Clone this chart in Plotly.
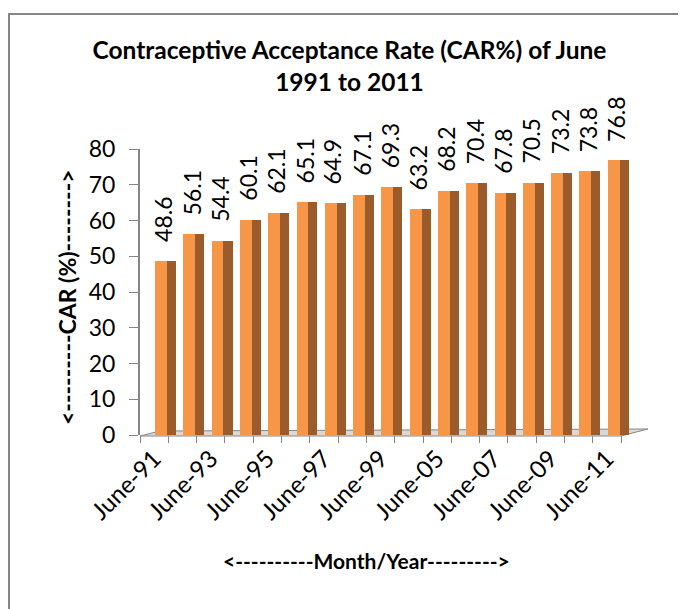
import plotly.graph_objects as go

categories = ["June-91", "June-92", "June-93", "June-94", "June-95", "June-96",
              "June-97", "June-98", "June-99", "June-04", "June-05", "June-06",
              "June-07", "June-08", "June-09", "June-10", "June-11"]
car_values = [48.6, 56.1, 54.4, 60.1, 62.1, 65.1, 64.9, 67.1, 69.3, 63.2,
              68.2, 70.4, 67.8, 70.5, 73.2, 73.8, 76.8]
tick_labels = [c if i % 2 == 0 else "" for i, c in enumerate(categories)]

FONT = "Lato"
FRONT = "#F79646"
SIDE = "#9C5B2A"
GRAY = "#868686"

fig = go.Figure()
# side face of the 3D bars
fig.add_trace(go.Bar(x=categories, y=car_values, offset=0.44, width=0.33,
                     marker=dict(color=SIDE, line=dict(width=0)),
                     hoverinfo="skip", showlegend=False))
# front face of the 3D bars
fig.add_trace(go.Bar(x=categories, y=car_values, offset=0.03, width=0.42,
                     marker=dict(color=FRONT, line=dict(width=0)),
                     showlegend=False))

annotations = []
for c, v in zip(categories, car_values):
    annotations.append(dict(x=c, y=v, xref="x", yref="y", text=f"{v:.1f}",
                            textangle=-90, showarrow=False, xanchor="center",
                            yanchor="bottom", xshift=9, yshift=18, borderpad=0,
                            font=dict(family=FONT, size=23, color="black")))

annotations.append(dict(x=-0.1487, y=0.4825, xref="paper", yref="paper",
                        text="<b><---------CAR (%)--------></b>", textangle=-90,
                        showarrow=False, xanchor="center", yanchor="middle",
                        font=dict(family=FONT, size=23, color="black")))
annotations.append(dict(x=0.4603, y=-0.44, xref="paper", yref="paper",
                        text="<b><----------Month/Year---------></b>",
                        showarrow=False, xanchor="center", yanchor="middle",
                        font=dict(family=FONT, size=21, color="black")))

shapes = [
    # outer chart border
    dict(type="rect", xref="paper", yref="paper", x0=-0.2668, x1=1.2, y0=-0.7, y1=1.472,
         line=dict(color=GRAY, width=2), fillcolor="rgba(0,0,0,0)", layer="below"),
    # 3D floor
    dict(type="path", xref="paper", yref="paper",
         path="M 0,-0.0035 L 0.9796,-0.0035 L 1.0346,0.021 L 0.0407,0.014 Z",
         fillcolor="#D9D9D9", line=dict(color=GRAY, width=1), layer="below"),
]

fig.update_layout(
    width=678, height=601,
    margin=dict(l=132, r=55, t=141, b=174),
    paper_bgcolor="white", plot_bgcolor="white",
    barmode="overlay", bargap=0,
    title=dict(text="<b>Contraceptive Acceptance Rate (CAR%) of June<br>1991 to 2011</b>",
               x=341.5 / 678, xanchor="center", y=1 - 51 / 601, yanchor="middle",
               font=dict(family=FONT, size=24.5, color="black")),
    font=dict(family=FONT, size=23, color="black"),
    annotations=annotations,
    shapes=shapes,
    xaxis=dict(type="category", range=[-0.5, 16.85], tickmode="array",
               tickvals=categories, ticktext=tick_labels, tickangle=-45,
               tickson="boundaries", ticks="outside", ticklen=7, tickcolor=GRAY,
               showline=False, showgrid=False, automargin=False,
               ticklabelstandoff=4,
               tickfont=dict(family=FONT, size=24, color="black")),
    yaxis=dict(range=[0, 80], dtick=10, ticks="outside", ticklen=9, tickcolor=GRAY,
               showline=True, linecolor=GRAY, linewidth=2, showgrid=False,
               zeroline=False, ticklabelstandoff=9, automargin=False,
               tickfont=dict(family=FONT, size=23, color="black")),
)

fig.write_html("out.html")
